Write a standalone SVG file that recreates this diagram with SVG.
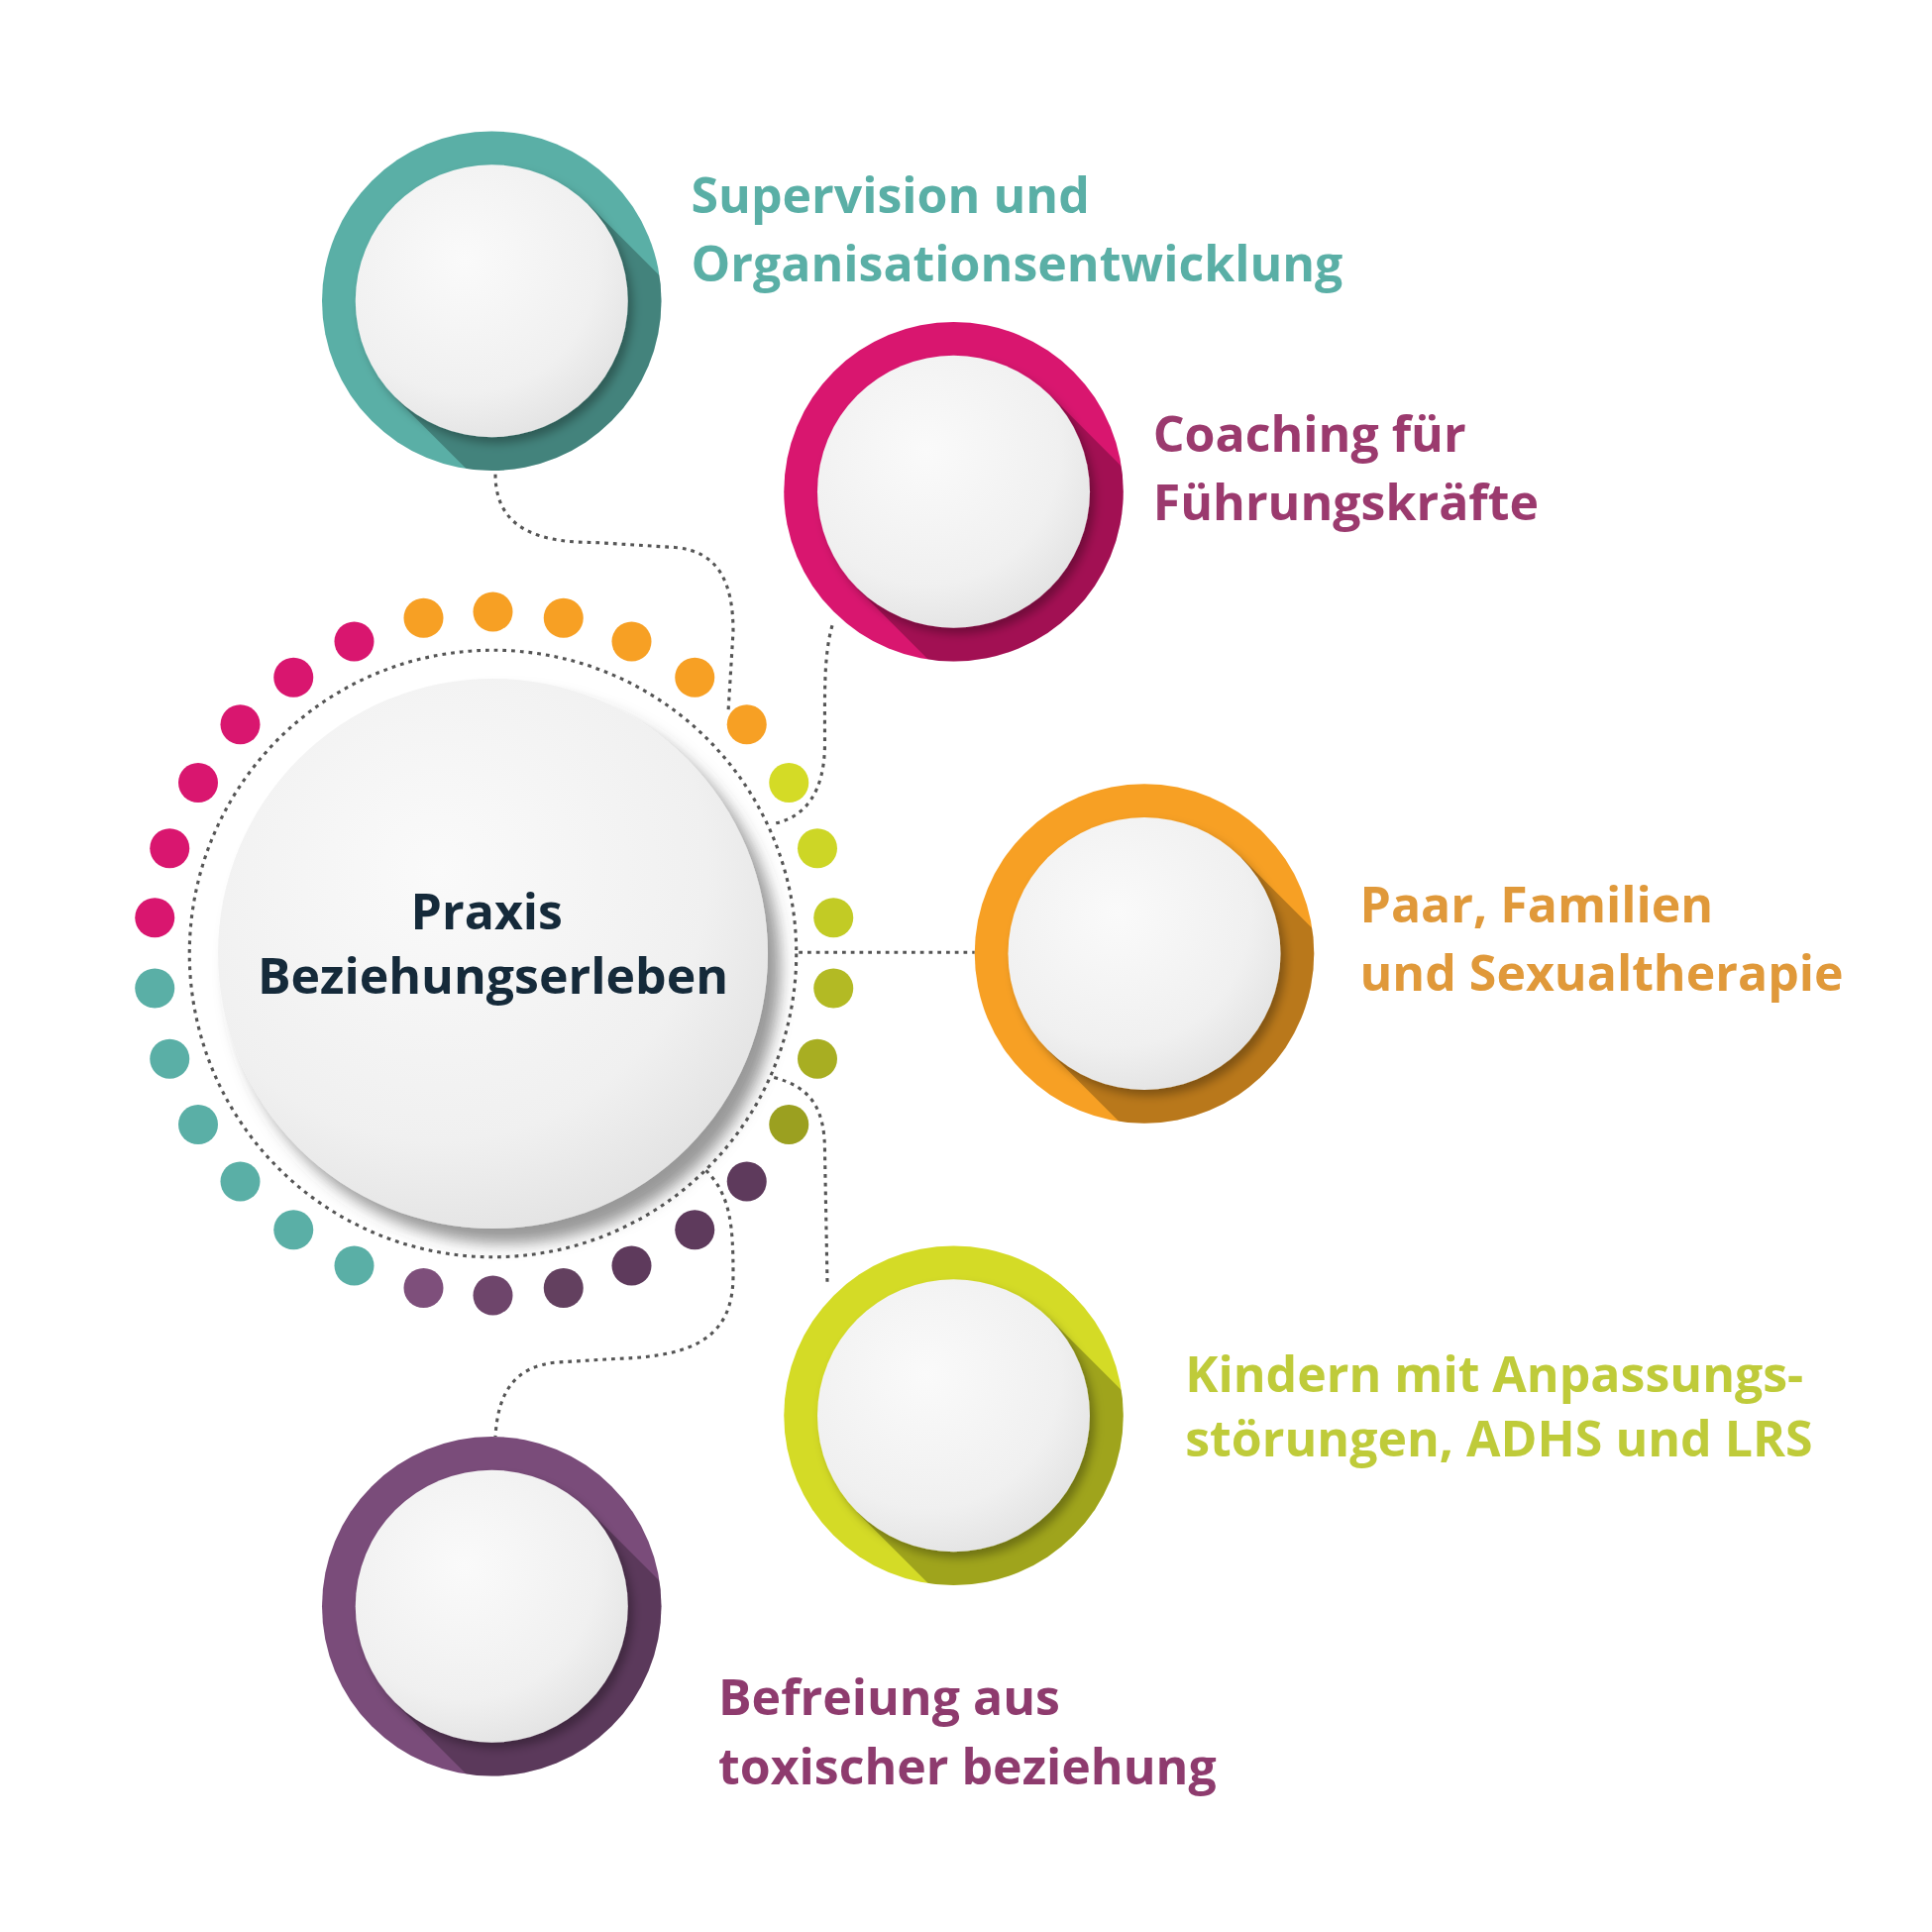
<svg xmlns="http://www.w3.org/2000/svg" width="1950" height="1950" viewBox="0 0 1950 1950">
<defs>
<radialGradient id="wg" cx="0.4" cy="0.35" r="0.7"><stop offset="0" stop-color="#fafafa"/><stop offset="0.7" stop-color="#f0f0f0"/><stop offset="1" stop-color="#e2e2e2"/></radialGradient>
<clipPath id="ring"><circle r="137"/></clipPath>
<filter id="ds" x="-30%" y="-30%" width="160%" height="160%"><feDropShadow dx="4" dy="5" stdDeviation="4" flood-opacity="0.3"/></filter>
<filter id="dsc" x="-30%" y="-30%" width="160%" height="160%"><feDropShadow dx="10" dy="12" stdDeviation="6" flood-color="#444" flood-opacity="0.55"/></filter>
<g id="shadow"><polygon points="78,-78 300,144 144,300 -78,78" fill="#000" fill-opacity="0.25" clip-path="url(#ring)"/></g>
<circle id="inner" r="110" fill="url(#wg)" filter="url(#ds)"/>
</defs>
<style>
text{font-family:"Open Sans","Liberation Sans",sans-serif;font-weight:bold;font-size:40px}
.con{fill:none;stroke:#555;stroke-width:2.5;stroke-dasharray:3 4}
</style>
<rect width="1950" height="1950" fill="#fff"/>
<g transform="scale(1.25)">
<g id="connectors">
<path class="con" d="M400,383 C400,430 440,438 480,438 L545,442 C580,445 592,470 592,510 L588,575"/>
<path class="con" d="M672,505 C665,530 666,560 666,600 C666,640 650,660 625,665"/>
<path class="con" d="M645,769 L787,769"/>
<path class="con" d="M625,870 C655,878 666,895 666,930 L668,1035"/>
<path class="con" d="M570,945 C590,965 592,990 592,1030 C592,1080 560,1095 500,1097 L450,1100 C415,1103 402,1125 400,1160"/>
</g>
<g id="center">
<circle cx="398" cy="770" r="245" fill="none" stroke="#555" stroke-width="2.5" stroke-dasharray="3 4"/>
<g id="dots">
<circle cx="342" cy="499" r="16" fill="#F7A024"/><circle cx="398" cy="494" r="16" fill="#F7A024"/><circle cx="455" cy="499" r="16" fill="#F7A024"/><circle cx="510" cy="518" r="16" fill="#F7A024"/><circle cx="561" cy="547" r="16" fill="#F7A024"/><circle cx="603" cy="585" r="16" fill="#F7A024"/>
<circle cx="637" cy="632" r="16" fill="#D4DB26"/><circle cx="660" cy="685" r="16" fill="#CDD626"/><circle cx="673" cy="741" r="16" fill="#C2CB25"/><circle cx="673" cy="798" r="16" fill="#B3BA24"/><circle cx="660" cy="855" r="16" fill="#A8AE22"/><circle cx="637" cy="908" r="16" fill="#9BA020"/>
<circle cx="603" cy="954" r="16" fill="#5E3A5C"/><circle cx="561" cy="993" r="16" fill="#5E3A5C"/><circle cx="510" cy="1022" r="16" fill="#5E3A5C"/><circle cx="455" cy="1040" r="16" fill="#63405F"/><circle cx="398" cy="1046" r="16" fill="#6E456B"/><circle cx="342" cy="1040" r="16" fill="#7E4F7B"/>
<circle cx="286" cy="1022" r="16" fill="#5AAFA6"/><circle cx="237" cy="993" r="16" fill="#5AAFA6"/><circle cx="194" cy="954" r="16" fill="#5AAFA6"/><circle cx="160" cy="908" r="16" fill="#5AAFA6"/><circle cx="137" cy="855" r="16" fill="#5AAFA6"/><circle cx="125" cy="798" r="16" fill="#5AAFA6"/>
<circle cx="125" cy="741" r="16" fill="#D9166F"/><circle cx="137" cy="685" r="16" fill="#D9166F"/><circle cx="160" cy="632" r="16" fill="#D9166F"/><circle cx="194" cy="585" r="16" fill="#D9166F"/><circle cx="237" cy="547" r="16" fill="#D9166F"/><circle cx="286" cy="518" r="16" fill="#D9166F"/>
</g>
<circle cx="398" cy="770" r="222" fill="url(#wg)" filter="url(#dsc)"/>
<text x="393" y="750" text-anchor="middle" fill="#152a3a" font-size="38">Praxis</text>
<text x="398" y="802" text-anchor="middle" fill="#152a3a" font-size="38">Beziehungserleben</text>
</g>
<g id="n1" transform="translate(397,243)"><circle r="137" fill="#5AAFA6"/><use href="#shadow"/><use href="#inner"/></g>
<text x="558" y="172" fill="#5AAFA6">Supervision und</text>
<text x="558" y="227" fill="#5AAFA6">Organisationsentwicklung</text>
<g id="n2" transform="translate(770,397)"><circle r="137" fill="#D9166F"/><use href="#shadow"/><use href="#inner"/></g>
<text x="931" y="365" fill="#9B3A6E">Coaching für</text>
<text x="931" y="420" fill="#9B3A6E">Führungskräfte</text>
<g id="n3" transform="translate(924,770)"><circle r="137" fill="#F7A024"/><use href="#shadow"/><use href="#inner"/></g>
<text x="1098" y="745" fill="#E0993A">Paar, Familien</text>
<text x="1098" y="800" fill="#E0993A">und Sexualtherapie</text>
<g id="n4" transform="translate(770,1143)"><circle r="137" fill="#D4DB26"/><use href="#shadow"/><use href="#inner"/></g>
<text x="957" y="1124" fill="#BFCB3A">Kindern mit Anpassungs-</text>
<text x="957" y="1176" fill="#BFCB3A">störungen, ADHS und LRS</text>
<g id="n5" transform="translate(397,1297)"><circle r="137" fill="#7A4C7A"/><use href="#shadow"/><use href="#inner"/></g>
<text x="580" y="1385" fill="#8E3B6E">Befreiung aus</text>
<text x="580" y="1441" fill="#8E3B6E">toxischer beziehung</text>
</g>
</svg>
